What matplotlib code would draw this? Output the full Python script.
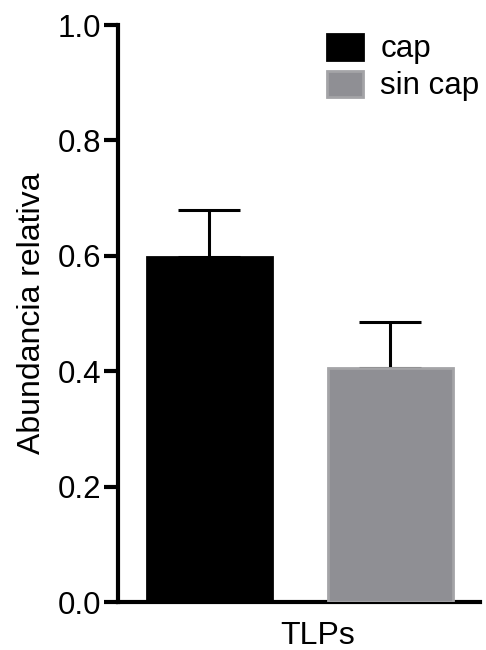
import matplotlib.pyplot as plt

plt.rcParams['font.family'] = ['Liberation Sans', 'DejaVu Sans']

groups = ["cap", "sin cap"]
means = [0.598, 0.405]
sem_up = [0.081, 0.080]
colors = ["#000000", "#8f8f94"]
edges = ["#000000", "#a4a4a7"]
yticks = [0.0, 0.2, 0.4, 0.6, 0.8, 1.0]

fig = plt.figure(figsize=(4.86, 6.5), dpi=100)
ax = fig.add_axes([0.243, 0.0738, 0.745, 0.8877])

xs = list(range(len(groups)))
for x, m, e, c, ec, g in zip(xs, means, sem_up, colors, edges, groups):
    ax.bar(x, m, width=0.69, color=c, edgecolor=ec, linewidth=2, label=g, zorder=3)
    ax.errorbar(x, m, yerr=[[0], [e]], fmt="none", ecolor="black",
                elinewidth=2.2, capsize=22, capthick=2.2, zorder=2)

ax.set_xlim(-0.505, 1.497)
ax.set_ylim(0, 1.0)
ax.set_yticks(yticks)
ax.set_yticklabels([f"{t:.1f}" for t in yticks])
ax.set_xticks([])

for s in ("top", "right"):
    ax.spines[s].set_visible(False)
for s in ("left", "bottom"):
    ax.spines[s].set_linewidth(3)
ax.tick_params(axis="y", length=10, width=3, labelsize=22.5, pad=2)

ax.set_ylabel("Abundancia relativa", fontsize=23, labelpad=8)
ax.set_xlabel("TLPs", fontsize=23)
ax.xaxis.set_label_coords(0.55, -0.033)
ax.xaxis.label.set_va("top")

ax.legend(loc="upper left", bbox_to_anchor=(0.577, 0.985), frameon=False,
          fontsize=22.5, handlelength=1.15, handleheight=0.9,
          handletextpad=0.55, labelspacing=0.2, borderpad=0, borderaxespad=0)

fig.savefig("out.png", dpi=100)
